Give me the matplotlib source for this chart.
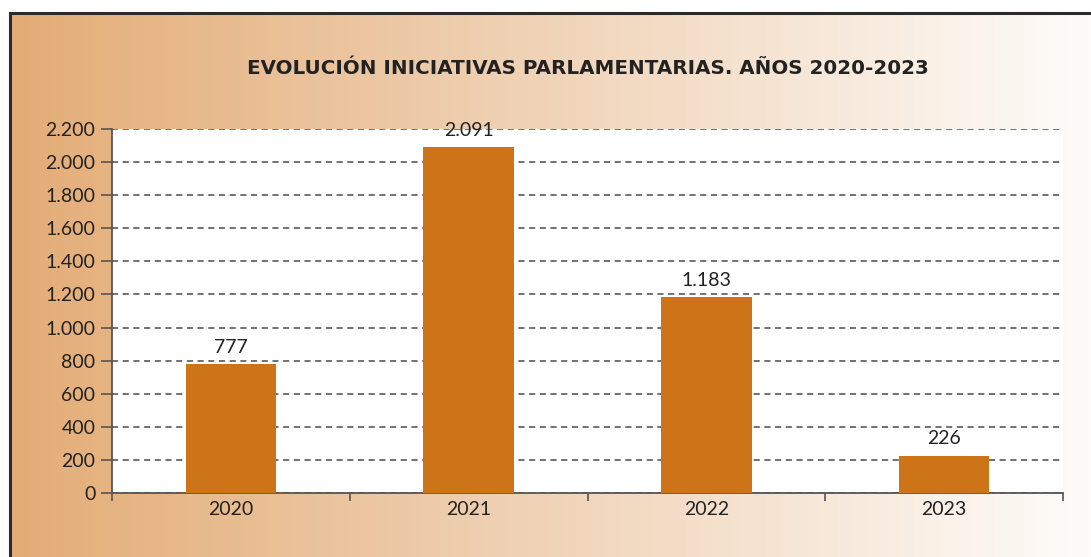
import numpy as np
import matplotlib
matplotlib.use("Agg")
import matplotlib.pyplot as plt
from matplotlib.ticker import FuncFormatter, FixedLocator

plt.rcParams['font.family'] = ['Lato', 'DejaVu Sans']

# Data
years = ["2020", "2021", "2022", "2023"]
iniciativas = [777, 2091, 1183, 226]
y_ticks = [0, 200, 400, 600, 800, 1000, 1200, 1400, 1600, 1800, 2000, 2200]

def miles(v, pos=None):
    return f"{int(v):,}".replace(",", ".")

W, H = 1091, 557
fig = plt.figure(figsize=(W / 100, H / 100), dpi=100, facecolor="white")

# gradient background panel with black frame (top and left)
bg = fig.add_axes([10 / W, 0, 1 - 10 / W, (H - 13) / H])
c0 = np.array([227, 172, 118]) / 255
c1 = np.array([254, 252, 250]) / 255
t = np.linspace(0, 1, 256)
grad = (c0[None, :] * (1 - t[:, None]) + c1[None, :] * t[:, None])[None, :, :]
bg.imshow(grad, aspect="auto", extent=[0, 1, 0, 1])
bg.set_xlim(0, 1)
bg.set_ylim(0, 1)
bg.axis("off")
fig.add_artist(plt.Line2D([10 / W, 1], [(H - 13) / H] * 2, color="#2b2b2b", lw=2.2,
                          transform=fig.transFigure))
fig.add_artist(plt.Line2D([10 / W] * 2, [0, (H - 13) / H], color="#2b2b2b", lw=2.2,
                          transform=fig.transFigure))

# main chart
ax = fig.add_axes([112 / W, 64 / H, (1063 - 112) / W, (493 - 129) / H])
ax.set_facecolor("white")
x = np.arange(len(years))
bars = ax.bar(x, iniciativas, width=0.38, color="#CD7318", zorder=3)

for xi, v in zip(x, iniciativas):
    ax.annotate(miles(v), (xi, v), xytext=(0, 6), textcoords="offset points",
                ha="center", va="bottom", fontsize=14, color="#222222")

ax.set_xlim(-0.5, len(years) - 0.5)
ax.set_ylim(0, 2200)
ax.set_yticks(y_ticks)
ax.yaxis.set_major_formatter(FuncFormatter(miles))
ax.yaxis.grid(True, linestyle=(0, (4, 3)), color="#4a4a4a", lw=1.1)
ax.set_axisbelow(True)

ax.xaxis.set_major_locator(FixedLocator(np.arange(-0.5, len(years), 1.0)))
ax.xaxis.set_major_formatter(FuncFormatter(lambda v, p: ""))
ax.xaxis.set_minor_locator(FixedLocator(x))
ax.set_xticklabels(years, minor=True)
ax.tick_params(axis="x", which="major", length=6, direction="out", color="#555555", width=1.2)
ax.tick_params(axis="x", which="minor", length=0, pad=6, labelsize=14, labelcolor="#222222")
ax.tick_params(axis="y", length=8, direction="out", color="#555555", width=1.2,
               labelsize=14, labelcolor="#222222", pad=4)

for s in ["top", "right"]:
    ax.spines[s].set_visible(False)
for s in ["left", "bottom"]:
    ax.spines[s].set_color("#555555")
    ax.spines[s].set_linewidth(1.3)

fig.text(588 / W, (H - 68) / H, "EVOLUCIÓN INICIATIVAS PARLAMENTARIAS. AÑOS 2020-2023",
         ha="center", va="center", fontsize=14.3, fontweight="bold", color="#222222",
         family=["DejaVu Sans"])

fig.savefig("out.png", dpi=100, facecolor="white")
